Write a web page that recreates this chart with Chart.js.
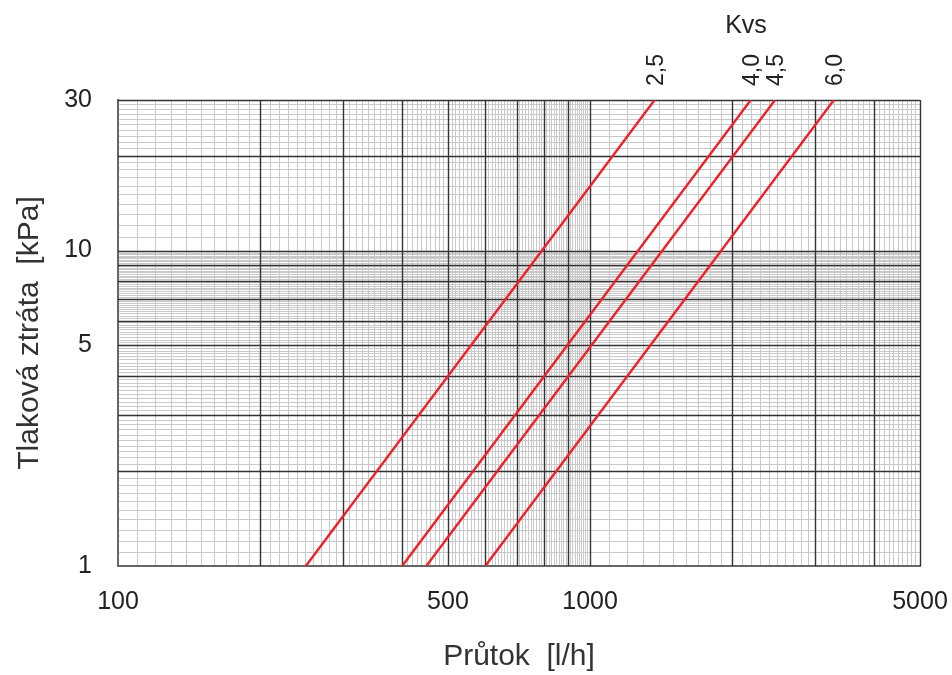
<!DOCTYPE html>
<html>
<head>
<meta charset="utf-8">
<script src="https://cdn.jsdelivr.net/npm/chart.js@4/dist/chart.umd.min.js"></script>
<style>
  body { margin: 0; background: #fff; }
  canvas { display: block; }
</style>
</head>
<body>
<canvas id="myChart" width="952" height="675"></canvas>
<script>
// hodnoty
const kvsLabels = ['2,5', '4,0', '4,5', '6,0'];
const pressureEnds = [1, 30];              // kPa
const flowAt1kPa = [250, 400, 450, 600];   // l/h
const flowAt30kPa = [1370, 2190, 2465, 3285];

const xTickLabels = [100, 500, 1000, 5000];
const yTickLabels = [1, 5, 10, 30];
const xRange = [100, 5000];
const yRange = [1, 30];

const fontFamily = '"Liberation Sans", Arial, sans-serif';

// logaritmická mřížka: hlavní čáry 1..9 x 10^k, vedlejší po desetinách
function gridValues(min, max) {
    let out = [];
    for (let k = Math.floor(Math.log10(min)); k <= Math.ceil(Math.log10(max)); k++) {
        let step = Math.pow(10, k - 1);
        for (let n = 10; n < 100; n++) {
            let v = Number((n * step).toPrecision(6));
            if (v >= min && v <= max && !out.includes(v)) out.push(v);
        }
    }
    return out;
}

function isMajor(v) {
    let m = v / Math.pow(10, Math.floor(Math.log10(v) + 1e-9));
    return Math.abs(m - Math.round(m)) < 1e-6;
}

const datasets = kvsLabels.map((kvs, i) => ({
    label: kvs,
    data: [
        { x: flowAt1kPa[i], y: pressureEnds[0] },
        { x: flowAt30kPa[i], y: pressureEnds[1] }
    ],
    borderColor: '#ee2128',
    borderWidth: 2.4,
    pointRadius: 0,
    fill: false
}));

const majorGrid = {
    id: 'majorGrid',
    beforeDatasetsDraw(chart) {
        const ctx = chart.ctx;
        const a = chart.chartArea;
        ctx.save();
        ctx.strokeStyle = '#333';
        ctx.lineWidth = 1.4;
        chart.scales.x.ticks.forEach(t => {
            if (!isMajor(t.value) || t.value === xRange[0]) return;
            let px = Math.round(chart.scales.x.getPixelForValue(t.value)) + 0.5;
            ctx.beginPath(); ctx.moveTo(px, a.top); ctx.lineTo(px, a.bottom); ctx.stroke();
        });
        chart.scales.y.ticks.forEach(t => {
            if (!isMajor(t.value) || t.value === yRange[0]) return;
            let py = Math.round(chart.scales.y.getPixelForValue(t.value)) + 0.5;
            ctx.beginPath(); ctx.moveTo(a.left, py); ctx.lineTo(a.right, py); ctx.stroke();
        });
        ctx.restore();
    }
};

const kvsText = {
    id: 'kvsText',
    afterDatasetsDraw(chart) {
        const ctx = chart.ctx;
        ctx.save();
        ctx.fillStyle = '#222';
        ctx.font = '25px ' + fontFamily;
        ctx.textAlign = 'center';
        ctx.textBaseline = 'middle';
        ctx.fillText('Kvs', 746, 26);
        ctx.font = '23px ' + fontFamily;
        ctx.textAlign = 'left';
        ctx.textBaseline = 'alphabetic';
        chart.data.datasets.forEach((ds, i) => {
            const meta = chart.getDatasetMeta(i);
            const top = meta.data[meta.data.length - 1];
            ctx.save();
            ctx.translate(top.x + 8, 86);
            ctx.rotate(-Math.PI / 2);
            ctx.fillText(ds.label, 0, 0);
            ctx.restore();
        });
        ctx.restore();
    }
};

const ctx = document.getElementById('myChart');

new Chart(ctx, {
    type: 'line',
    data: { datasets: datasets },
    plugins: [majorGrid, kvsText],
    options: {
        responsive: false,
        animation: false,
        layout: { padding: { top: 100, right: 32, left: 0, bottom: 0 } },
        plugins: { legend: { display: false }, tooltip: { enabled: false } },
        scales: {
            x: {
                type: 'logarithmic',
                min: xRange[0],
                max: xRange[1],
                afterBuildTicks: axis => {
                    axis.ticks = gridValues(xRange[0], xRange[1]).map(v => ({ value: v }));
                },
                afterFit: axis => {
                    axis.height = 109;
                    axis.paddingLeft = 0;
                    axis.paddingRight = 0;
                },
                ticks: {
                    autoSkip: false,
                    maxRotation: 0,
                    padding: 21,
                    color: '#222',
                    font: { family: fontFamily, size: 25 },
                    callback: v => xTickLabels.includes(v) ? String(v) : ''
                },
                grid: {
                    drawTicks: false,
                    color: c => (c.tick && isMajor(c.tick.value)) ? 'rgba(0,0,0,0)' : '#c9c9c9',
                    lineWidth: 1
                },
                border: { color: '#666', width: 2 },
                title: {
                    display: true,
                    text: 'Průtok  [l/h]',
                    color: '#333',
                    padding: { top: 0, bottom: 0 },
                    font: { family: fontFamily, size: 30 }
                }
            },
            y: {
                type: 'logarithmic',
                min: yRange[0],
                max: yRange[1],
                afterBuildTicks: axis => {
                    axis.ticks = gridValues(yRange[0], yRange[1]).map(v => ({ value: v }));
                },
                afterFit: axis => {
                    axis.width = 118;
                    axis.paddingTop = 0;
                    axis.paddingBottom = 0;
                },
                ticks: {
                    autoSkip: false,
                    padding: 26,
                    color: '#222',
                    font: { family: fontFamily, size: 25 },
                    callback: v => yTickLabels.includes(v) ? String(v) : ''
                },
                grid: {
                    drawTicks: false,
                    color: c => (c.tick && isMajor(c.tick.value)) ? 'rgba(0,0,0,0)' : '#c9c9c9',
                    lineWidth: 1
                },
                border: { color: '#666', width: 2 },
                title: {
                    display: true,
                    text: 'Tlaková ztráta  [kPa]',
                    color: '#333',
                    padding: { top: 12, bottom: 0 },
                    font: { family: fontFamily, size: 30 }
                }
            }
        }
    }
});
</script>
</body>
</html>
